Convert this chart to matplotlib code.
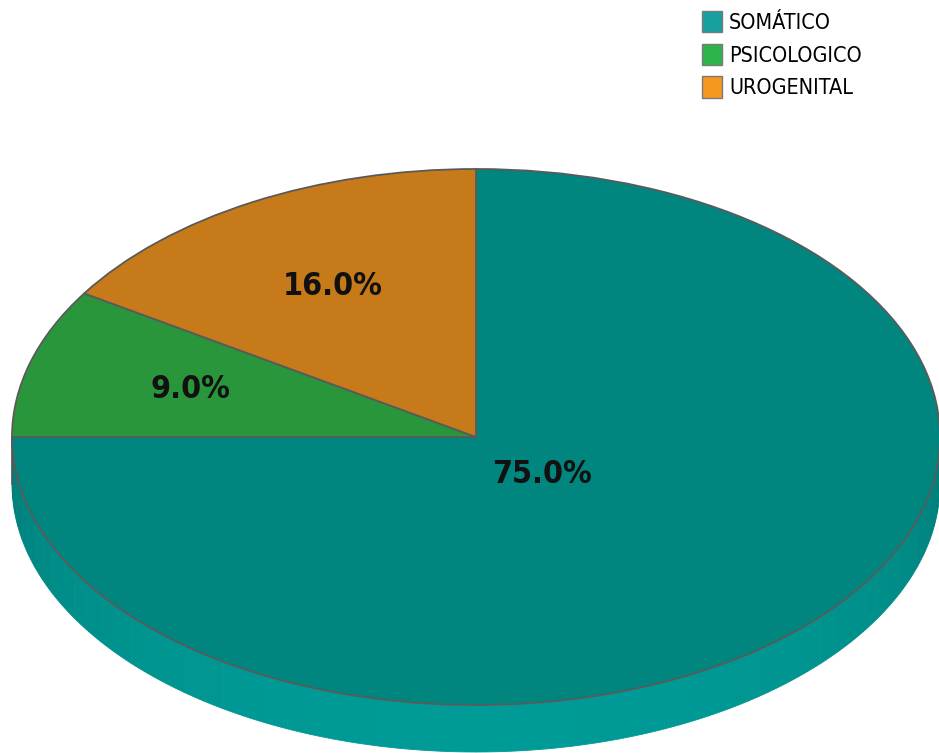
import numpy as np
import matplotlib
matplotlib.use("Agg")
import matplotlib.pyplot as plt
from matplotlib.patches import Patch, Polygon
from matplotlib import font_manager

# Data
categories = ["SOMÁTICO", "PSICOLOGICO", "UROGENITAL"]
percentages = [75.0, 9.0, 16.0]
face_colors = ["#00857F", "#2A963C", "#C67A19"]
legend_colors = ["#17A09D", "#2DB44B", "#F5961E"]

# Pick a narrow sans face when one is installed
names = {f.name for f in font_manager.fontManager.ttflist}
narrow = [n for n in ("Liberation Sans Narrow", "Arial Narrow", "DejaVu Sans") if n in names]
fam = narrow[:1] + ["DejaVu Sans"]

W, H = 939, 753
fig = plt.figure(figsize=(W / 100, H / 100), dpi=100)
ax = fig.add_axes([0, 0, 1, 1])

# Pixel geometry of the tilted pie: centre, radii and rim depth
cx, cy = 476, 753 - 437
rx, ry = 464, 268
depth = 47 / ry

# Rim of the front half (only the teal slice is visible there)
n = 60
edges = np.linspace(np.pi, 2 * np.pi, n + 1)
dark = np.array([0, 118, 113]) / 255
light = np.array([0, 155, 151]) / 255
for a0, a1 in zip(edges[:-1], edges[1:]):
    am = 0.5 * (a0 + a1)
    t = min(1.0, (-np.sin(am)) ** 0.6)
    col = dark + (light - dark) * t
    arc = np.linspace(a0, a1, 6)
    top = np.column_stack([np.cos(arc), np.sin(arc)])
    bot = top[::-1] - [0, depth]
    ax.add_patch(Polygon(np.vstack([top, bot]), closed=True,
                         facecolor=col, edgecolor=col, lw=0.6, zorder=1))
ax.plot([-1, -1], [0, -depth], color="#5a5a5a", lw=1.2, zorder=2)

wedges, texts, autotexts = ax.pie(
    percentages, colors=face_colors, startangle=90, counterclock=False,
    radius=1, center=(0, 0), autopct="%1.1f%%", pctdistance=0.64,
    wedgeprops=dict(edgecolor="#5a5a5a", linewidth=1.3),
    textprops=dict(fontsize=23, fontweight="bold", color="#111111",
                   family=fam, fontstretch="condensed"),
    frame=True)
for w in wedges:
    w.set_zorder(3)

# the large slice carries its label close to the centre
w0 = wedges[0]
mid = np.deg2rad(0.5 * (w0.theta1 + w0.theta2))
autotexts[0].set_position((0.2 * np.cos(mid), 0.2 * np.sin(mid)))
for t in autotexts:
    t.set_zorder(5)

ax.set_aspect("auto")
ax.set_xlim((0 - cx) / rx, (W - cx) / rx)
ax.set_ylim((0 - cy) / ry, (H - cy) / ry)
ax.axis("off")

handles = [Patch(facecolor=c, edgecolor="#7a7a7a", linewidth=1.0)
           for c in legend_colors]
leg = ax.legend(handles, categories, loc="upper left",
                bbox_to_anchor=(702 / W, 1 - 11 / H), bbox_transform=fig.transFigure,
                frameon=False, handlelength=0.95, handleheight=1.15,
                handletextpad=0.3, labelspacing=0.5, borderpad=0.0,
                borderaxespad=0.0,
                prop=dict(family=fam, size=15.5, stretch="condensed"))

fig.savefig("out.png", dpi=100)
